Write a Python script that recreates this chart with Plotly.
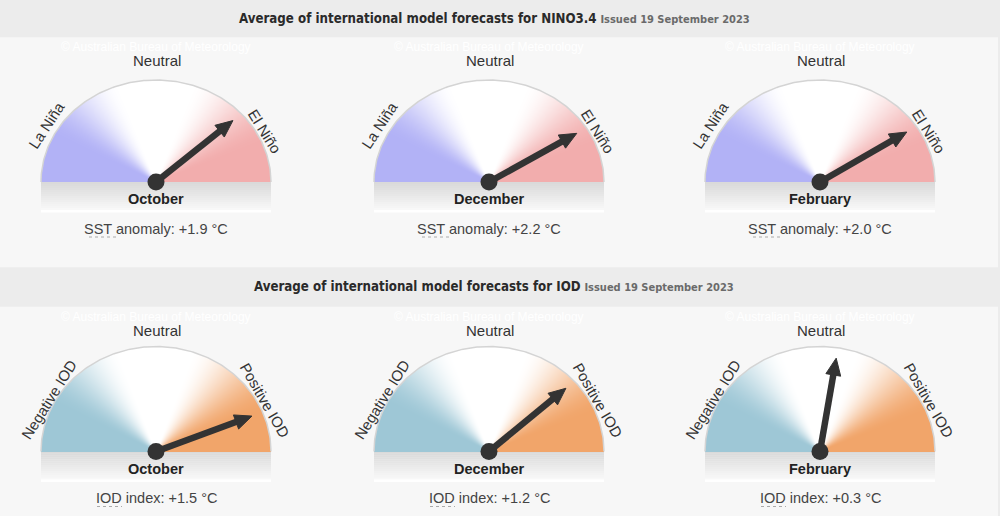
import numpy as np
import plotly.graph_objects as go

# ---------------- data ----------------
nino_months = ["October", "December", "February"]
nino_values = [1.9, 2.2, 2.0]
nino_needle_deg = [42, 32, 33]

iod_months = ["October", "December", "February"]
iod_values = [1.5, 1.2, 0.3]
iod_needle_deg = [22, 42, 81]

issued = "Issued 19 September 2023"

rows = [
    dict(title="Average of international model forecasts for NINO3.4",
         left="La Niña", right="El Niño", prefix="SST anomaly: ",
         months=nino_months, values=nino_values, needles=nino_needle_deg,
         cl="#b2b2f6", cr="#f2adad", cy=182.0, b=102.0, head_y=(0, 37.3),
         panel=(37.3, 267.3), lab=(-110, -57, -57, 109, -51, 58), abbr="SST",
         ab=(-67, -40)),
    dict(title="Average of international model forecasts for IOD",
         left="Negative IOD", right="Positive IOD", prefix="IOD index: ",
         months=iod_months, values=iod_values, needles=iod_needle_deg,
         cl="#9ec7d6", cr="#f1a56a", cy=451.5, b=105.0, head_y=(267.3, 306.7),
         panel=(306.7, 516), lab=(-107, -52, -58, 109, -51, 60), abbr="IOD",
         ab=(-59, -34)),
]

centers_x = [156.0, 489.0, 820.0]
A = 115.0

fig = go.Figure()
shapes = []
annotations = []

HEAD = "DejaVu Sans Condensed, Liberation Sans Narrow, Arial Narrow, sans-serif"
BODY = "Liberation Sans, Arial, sans-serif"


def smooth(t):
    t = np.clip(t, 0, 1)
    return t * t * (3 - 2 * t)


for row in rows:
    # panel background
    shapes.append(dict(type="rect", xref="x", yref="y", x0=0, x1=998,
                       y0=row["panel"][0], y1=row["panel"][1],
                       fillcolor="#f7f7f7", line_width=0, layer="below"))
    hy = (row["head_y"][0] + row["head_y"][1]) / 2
    annotations.append(dict(
        x=494, y=hy - 0.5, xref="x", yref="y", showarrow=False,
        text=f"<b>{row['title']}</b> <span style='font-size:11px;color:#6a6a6a'><b>{issued}</b></span>",
        font=dict(family=HEAD, size=13.2, color="#2a2a2a")))
    cy, b = row["cy"], row["b"]
    for i, cx in enumerate(centers_x):
        # gradient fill of the half-ellipse
        xs = np.arange(np.floor(cx - A), np.ceil(cx + A) + 1) + 0.5
        ys = np.arange(np.floor(cy - b) - 1, np.ceil(cy)) + 0.5
        X, Y = np.meshgrid(xs, ys)
        u = (X - cx) / A
        v = (cy - Y) / b
        inside = (u ** 2 + v ** 2 <= 1.0) & (v >= -0.01)
        th = np.degrees(np.arctan2(np.maximum(v, 0), u))
        z = -smooth((th - 108) / 45) + smooth((72 - th) / 50)
        z = np.where(inside, z, np.nan)
        fig.add_trace(go.Heatmap(
            x=xs, y=ys, z=z, zmin=-1, zmax=1, showscale=False,
            colorscale=[[0, row["cl"]], [0.5, "#ffffff"], [1, row["cr"]]],
            hoverinfo="skip"))
        # outline arc
        t = np.radians(np.linspace(0, 180, 181))
        fig.add_trace(go.Scatter(
            x=cx + A * np.cos(t), y=cy - b * np.sin(t), mode="lines",
            line=dict(color="#d4d4d4", width=1.5), hoverinfo="skip"))
        # shadow band under baseline
        nb = 14
        for k in range(nb):
            g = int(218 + (248 - 218) * k / (nb - 1))
            shapes.append(dict(type="rect", xref="x", yref="y",
                               x0=cx - A, x1=cx + A,
                               y0=cy + 2 * k, y1=cy + 2 * k + 2.2,
                               fillcolor=f"rgb({g},{g},{g})", line_width=0,
                               layer="below"))
        shapes.append(dict(type="rect", xref="x", yref="y",
                           x0=cx - A, x1=cx + A, y0=cy + 28, y1=cy + 30.5,
                           fillcolor="#ffffff", line_width=0, layer="below"))
        # needle
        phi = np.radians(row["needles"][i])
        tx = cx + 0.9 * A * np.cos(phi)
        ty = cy - 0.9 * b * np.sin(phi)
        d = np.array([tx - cx, ty - cy])
        d = d / np.hypot(*d)
        n = np.array([-d[1], d[0]])
        base = np.array([tx, ty]) - 17 * d
        fig.add_trace(go.Scatter(
            x=[cx, base[0] + 2 * d[0]], y=[cy, base[1] + 2 * d[1]],
            mode="lines", line=dict(color="#333333", width=6.5),
            hoverinfo="skip"))
        tri = [np.array([tx, ty]), base + 7.5 * n, base - 7.5 * n]
        fig.add_trace(go.Scatter(
            x=[p[0] for p in tri] + [tx], y=[p[1] for p in tri] + [ty],
            mode="lines", fill="toself", fillcolor="#333333",
            line=dict(color="#333333", width=1), hoverinfo="skip"))
        fig.add_trace(go.Scatter(
            x=[cx], y=[cy], mode="markers",
            marker=dict(size=17, color="#333333"), hoverinfo="skip"))
        # labels
        lx, ly, la, rx, ry, ra = row["lab"]
        annotations.append(dict(x=cx + 1, y=cy - 121.5, xref="x", yref="y",
                                text="Neutral", showarrow=False,
                                font=dict(family=BODY, size=15, color="#333")))
        annotations.append(dict(x=cx + lx, y=cy + ly, xref="x", yref="y",
                                text=row["left"], showarrow=False,
                                textangle=la,
                                font=dict(family=BODY, size=15, color="#333")))
        annotations.append(dict(x=cx + rx, y=cy + ry, xref="x", yref="y",
                                text=row["right"], showarrow=False,
                                textangle=ra,
                                font=dict(family=BODY, size=15, color="#333")))
        annotations.append(dict(x=cx, y=cy - 135, xref="x", yref="y",
                                text="© Australian Bureau of Meteorology",
                                showarrow=False,
                                font=dict(family=BODY, size=12, color="#ffffff")))
        annotations.append(dict(x=cx, y=cy + 17, xref="x", yref="y",
                                text=f"<b>{row['months'][i]}</b>",
                                showarrow=False,
                                font=dict(family=BODY, size=14.5, color="#222")))
        annotations.append(dict(x=cx, y=cy + 46.5, xref="x", yref="y",
                                text=f"{row['prefix']}{row['values'][i]:+.1f} °C",
                                showarrow=False,
                                font=dict(family=BODY, size=14.5, color="#444")))
        shapes.append(dict(type="line", xref="x", yref="y",
                           x0=cx + row["ab"][0], x1=cx + row["ab"][1],
                           y0=cy + 55, y1=cy + 55,
                           line=dict(color="#aaaaaa", width=1, dash="dot")))

fig.update_layout(
    width=1000, height=516, margin=dict(l=0, r=0, t=0, b=0),
    paper_bgcolor="#ececec", plot_bgcolor="#ececec", showlegend=False,
    xaxis=dict(range=[0, 1000], visible=False, fixedrange=True),
    yaxis=dict(range=[516, 0], visible=False, fixedrange=True),
    shapes=shapes, annotations=annotations)

fig.write_html("out.html")
